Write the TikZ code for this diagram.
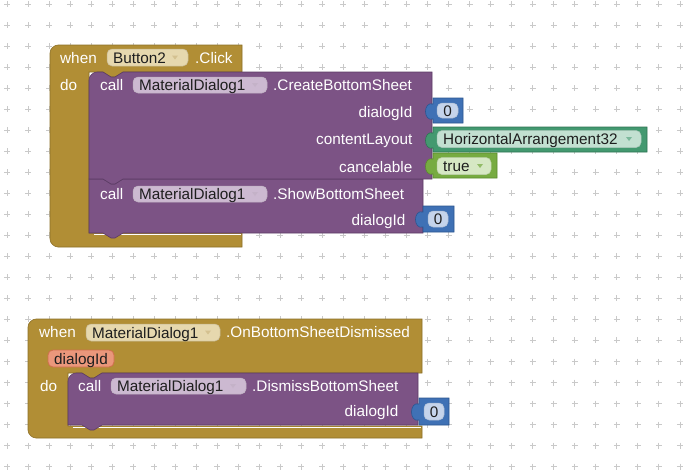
\documentclass[tikz,border=0pt]{standalone}
\usepackage{fontspec}
\setmainfont{Liberation Sans}
\newcommand\blkfont{\fontsize{15.3pt}{18pt}\selectfont}
\definecolor{gold}{HTML}{B18E35}
\definecolor{goldd}{HTML}{8C6F27}
\definecolor{goldpill}{HTML}{E6D8AE}
\definecolor{purp}{HTML}{7C5385}
\definecolor{purpd}{HTML}{5C3C65}
\definecolor{purppill}{HTML}{CCB9D1}
\definecolor{mblue}{HTML}{3F71B5}
\definecolor{mblued}{HTML}{2C5590}
\definecolor{mbluepill}{HTML}{C5D4EB}
\definecolor{cgreen}{HTML}{439970}
\definecolor{cgreend}{HTML}{2E7352}
\definecolor{cgreenpill}{HTML}{C2E0D1}
\definecolor{lgreen}{HTML}{77AB41}
\definecolor{lgreend}{HTML}{5A8A2C}
\definecolor{lgreenpill}{HTML}{D6E8C4}
\definecolor{param}{HTML}{EA977B}
\definecolor{paramd}{HTML}{D06F4D}
\definecolor{gridc}{HTML}{C9C9C9}
\definecolor{pilltext}{HTML}{1E1E1E}
\begin{document}
\begin{tikzpicture}[x=1pt,y=-1pt,
  lbl/.style={text=white,inner sep=0pt,font=\blkfont,text height=11pt,text depth=0pt},
  ptxt/.style={text=pilltext,inner sep=0pt,font=\blkfont,text height=11pt,text depth=0pt},
  goldblk/.style={fill=gold,draw=goldd,line width=0.6pt},
  purpblk/.style={fill=purp,draw=purpd,line width=0.6pt},
  pillshape/.style={rounded corners=5pt,line width=0.5pt},
  ddarrow/.style={fill=#1},
  hilite/.style={draw=white,line width=1.3pt}
]
\fill[white] (0,0) rectangle (690,472);
\useasboundingbox (0,0) rectangle (690,472);
% grid
\foreach \i in {0,...,32}{\foreach \j in {0,...,22}{
  \draw[gridc,line width=0.9pt] ({7+21.03*\i-3},{4+21.03*\j}) -- ++(6,0) ({7+21.03*\i},{4+21.03*\j-3}) -- ++(0,6);}}

% ================= Block 1 =================
\filldraw[goldblk] (50,53) .. controls (50,48.6) and (54.4,45) .. (58,45) -- (242,45) -- (242,72) -- (123,72) -- (115,77) -- (111,77) -- (103,72) -- (89,72) -- (89,233) -- (242,233) -- (242,247) -- (58,247) .. controls (54.4,247) and (50,243.4) .. (50,239) -- cycle;
\draw[hilite] (94,234.3) -- (241,234.3);
% purple ShowBottomSheet
\filldraw[purpblk] (89,179) -- (103,179) -- (111,184) -- (115,184) -- (123,179) -- (423,179) -- (423,233) -- (123,233) -- (115,238) -- (111,238) -- (103,233) -- (89,233) -- cycle;
% purple CreateBottomSheet
\filldraw[purpblk] (89,80) .. controls (89,75.6) and (93.4,72) .. (97,72) -- (103,72) -- (111,77) -- (115,77) -- (123,72) -- (432,72) -- (432,179) -- (123,179) -- (115,184) -- (111,184) -- (103,179) -- (89,179) -- cycle;

\node[lbl,anchor=west] (when1) at (60,57.5) {when};
\filldraw[pillshape,fill=goldpill,draw=goldd!50] (107,49) rectangle (188,66);
\node[ptxt,anchor=west] (btn) at (113,57.5) {Button2};
\fill[ddarrow=gold!55] (172,55.5) -- (178,55.5) -- (175,59.5) -- cycle;
\node[lbl,anchor=west] (click) at (195,57.5) {.Click};
\node[lbl,anchor=west] (do1) at (60,85) {do};

\node[lbl,anchor=west] (call1) at (100,85) {call};
\filldraw[pillshape,fill=purppill,draw=purpd!40] (133,77) rectangle (267,93);
\node[ptxt,anchor=west] (md1) at (139,85) {MaterialDialog1};
\fill[ddarrow=purp!45] (252,83) -- (258,83) -- (255,87) -- cycle;
\node[lbl,anchor=west] (cbs) at (273,85) {.CreateBottomSheet};
\node[lbl,anchor=east] (did1) at (412.5,112) {dialogId};
\node[lbl,anchor=east] (cl) at (412.5,138.5) {contentLayout};
\node[lbl,anchor=east] (canc) at (412.5,166.5) {cancelable};

\node[lbl,anchor=west] (call2) at (100,193.5) {call};
\filldraw[pillshape,fill=purppill,draw=purpd!40] (133,186) rectangle (267,202);
\node[ptxt,anchor=west] (md2) at (139,194) {MaterialDialog1};
\fill[ddarrow=purp!45] (252,192) -- (258,192) -- (255,196) -- cycle;
\node[lbl,anchor=west] (sbs) at (273,193.5) {.ShowBottomSheet};
\node[lbl,anchor=east] (did2) at (405.5,219.5) {dialogId};

% value: 0
\filldraw[fill=mblue,draw=mblued,line width=0.6pt] (433,98) -- (463,98) -- (463,123) -- (433,123) -- (433,119) .. controls (423,122) and (423,101) .. (433,104) -- cycle;
\filldraw[pillshape,fill=mbluepill,draw=mblued!40] (437,103) rectangle (458,118);
\node[ptxt] (zero1) at (447.5,110.5) {0};
% value: HorizontalArrangement32
\filldraw[fill=cgreen,draw=cgreend,line width=0.6pt] (433,127) -- (647,127) -- (647,152) -- (433,152) -- (433,148) .. controls (423,151) and (423,130) .. (433,133) -- cycle;
\filldraw[pillshape,fill=cgreenpill,draw=cgreend!40] (437,130.5) rectangle (641,147.5);
\node[ptxt,anchor=west] (ha) at (443,139) {HorizontalArrangement32};
\fill[ddarrow=cgreen!70] (626,137) -- (632,137) -- (629,141) -- cycle;
% value: true
\filldraw[fill=lgreen,draw=lgreend,line width=0.6pt] (433,153) -- (497,153) -- (497,178) -- (433,178) -- (433,174) .. controls (423,177) and (423,156) .. (433,159) -- cycle;
\filldraw[pillshape,fill=lgreenpill,draw=lgreend!40] (437,157.5) rectangle (491,174.5);
\node[ptxt,anchor=west] (tru) at (443,166) {true};
\fill[ddarrow=lgreen!80] (477,164) -- (483,164) -- (480,168) -- cycle;
% value: 0 (show)
\filldraw[fill=mblue,draw=mblued,line width=0.6pt] (423,206) -- (454,206) -- (454,232) -- (423,232) -- (423,227) .. controls (413,230) and (413,209) .. (423,212) -- cycle;
\filldraw[pillshape,fill=mbluepill,draw=mblued!40] (428,211) rectangle (448,227);
\node[ptxt] (zero2) at (438,219) {0};

% ================= Block 2 =================
\filldraw[goldblk] (28,327) .. controls (28,322.6) and (32.4,319) .. (36,319) -- (422,319) -- (422,373) -- (102,373) -- (94,378) -- (90,378) -- (82,373) -- (68,373) -- (68,426) -- (422,426) -- (422,438) -- (36,438) .. controls (32.4,438) and (28,434.4) .. (28,430) -- cycle;
\draw[hilite] (73,427.3) -- (421,427.3);
\filldraw[purpblk] (68,381) .. controls (68,376.6) and (72.4,373) .. (76,373) -- (82,373) -- (90,378) -- (94,378) -- (102,373) -- (418,373) -- (418,425) -- (102,425) -- (94,430) -- (90,430) -- (82,425) -- (68,425) -- cycle;

\node[lbl,anchor=west] (when2) at (39,332) {when};
\filldraw[pillshape,fill=goldpill,draw=goldd!50] (86,324) rectangle (220,341);
\node[ptxt,anchor=west] (md3) at (92,332.5) {MaterialDialog1};
\fill[ddarrow=gold!55] (205,330.5) -- (211,330.5) -- (208,334.5) -- cycle;
\node[lbl,anchor=west] (obsd) at (226,332) {.OnBottomSheetDismissed};
\filldraw[pillshape,fill=param,draw=paramd,line width=0.8pt] (48,350) rectangle (114,367);
\node[ptxt] (prm) at (81,358.5) {dialogId};
\node[lbl,anchor=west] (do2) at (40,386) {do};

\node[lbl,anchor=west] (call3) at (78,386) {call};
\filldraw[pillshape,fill=purppill,draw=purpd!40] (111,378) rectangle (246,394);
\node[ptxt,anchor=west] (md4) at (117,386) {MaterialDialog1};
\fill[ddarrow=purp!45] (230,384) -- (236,384) -- (233,388) -- cycle;
\node[lbl,anchor=west] (dbs) at (252,386) {.DismissBottomSheet};
\node[lbl,anchor=east] (did3) at (398.5,411) {dialogId};

\filldraw[fill=mblue,draw=mblued,line width=0.6pt] (419,398) -- (449,398) -- (449,425) -- (419,425) -- (419,420) .. controls (409,423) and (409,401) .. (419,404) -- cycle;
\filldraw[pillshape,fill=mbluepill,draw=mblued!40] (424,403) rectangle (444,420);
\node[ptxt] (zero3) at (434,411.5) {0};
\end{tikzpicture}
\end{document}
